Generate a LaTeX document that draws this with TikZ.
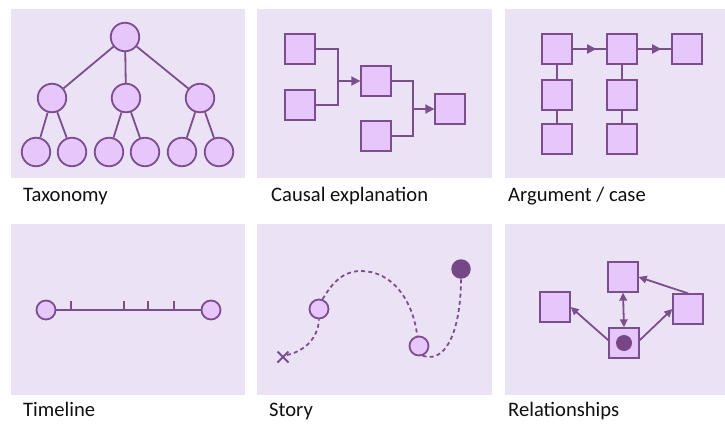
\documentclass[tikz,border=0pt]{standalone}
\usepackage{fontspec}
\setmainfont{Carlito}
\usetikzlibrary{arrows.meta,decorations.markings,calc}
\definecolor{bgp}{HTML}{ECE2F6}
\definecolor{fil}{HTML}{E6C6FB}
\definecolor{stk}{HTML}{7B4F8E}
\definecolor{dark}{HTML}{774686}
\definecolor{txt}{HTML}{101010}
\begin{document}
\begin{tikzpicture}[x=1pt,y=-1pt,
  panel/.style={fill=bgp, draw=none},
  circ/.style={circle, draw=stk, fill=fil, line width=1.8pt, minimum size=28.5pt, inner sep=0pt},
  smallcirc/.style={circle, draw=stk, fill=fil, line width=1.8pt, minimum size=19pt, inner sep=0pt},
  darkcirc/.style={circle, fill=dark, draw=none, minimum size=#1, inner sep=0pt},
  sq/.style={rectangle, draw=stk, fill=fil, line width=1.8pt, minimum size=29.5pt, inner sep=0pt},
  con/.style={draw=stk, line width=1.8pt},
  dsh/.style={draw=stk, line width=1.8pt, dash pattern=on 4pt off 3.2pt},
  tip/.style={-{Triangle[length=9pt,width=9pt]}},
  stip/.style={-{Triangle[length=8pt,width=7.5pt]}},
  btip/.style={{Triangle[length=8pt,width=7.5pt]}-{Triangle[length=8pt,width=7.5pt]}},
  midarr/.style={postaction={decorate}, decoration={markings, mark=at position #1 with {\arrow{Triangle[length=9pt,width=9pt]}}}},
  lbl/.style={anchor=base west, font=\fontsize{20.6}{24}\selectfont, text=txt, inner sep=0pt}
]
\useasboundingbox (0,0) rectangle (725,423);
\fill[white] (0,0) rectangle (725,423);

% panels
\path[panel] (11,9) rectangle (245,178);
\path[panel] (257,9) rectangle (492,178);
\path[panel] (505,9) rectangle (725,178);
\path[panel] (11,224) rectangle (245,395);
\path[panel] (257,224) rectangle (492,395);
\path[panel] (505,224) rectangle (725,395);

% labels
\node[lbl] (l1) at (23,201) {Taxonomy};
\node[lbl] (l2) at (271,201) {Causal explanation};
\node[lbl] (l3) at (508,201) {Argument / case};
\node[lbl] (l4) at (23,416) {Timeline};
\node[lbl] (l5) at (269,416) {Story};
\node[lbl] (l6) at (508,416) {Relationships};

% ---------- Taxonomy ----------
\node[circ] (root) at (125,37) {};
\node[circ] (m1) at (52,98) {};
\node[circ] (m2) at (126,98) {};
\node[circ] (m3) at (200,98) {};
\node[circ] (c1) at (36,152) {};
\node[circ] (c2) at (72,152) {};
\node[circ] (c3) at (109,152) {};
\node[circ] (c4) at (145,152) {};
\node[circ] (c5) at (182,152) {};
\node[circ] (c6) at (219,152) {};
\draw[con] (root) -- (m1);
\draw[con] (root) -- (m2);
\draw[con] (root) -- (m3);
\draw[con] (m1) -- (c1);
\draw[con] (m1) -- (c2);
\draw[con] (m2) -- (c3);
\draw[con] (m2) -- (c4);
\draw[con] (m3) -- (c5);
\draw[con] (m3) -- (c6);

% ---------- Causal explanation ----------
\node[sq] (b1) at (300,49) {};
\node[sq] (b2) at (300,105) {};
\node[sq] (b3) at (376,81) {};
\node[sq] (b4) at (376,136) {};
\node[sq] (b5) at (450,109) {};
\coordinate (j1) at (338,81);
\coordinate (j2) at (413,109);
\draw[con] (b1.east) -| (j1) |- (b2.east);
\draw[con,tip] (j1) -- (b3.west);
\draw[con] (b3.east) -| (j2) |- (b4.east);
\draw[con,tip] (j2) -- (b5.west);

% ---------- Argument / case ----------
\node[sq] (a1) at (557,49) {};
\node[sq] (a2) at (622,49) {};
\node[sq] (a3) at (687,49) {};
\node[sq] (a4) at (557,95) {};
\node[sq] (a5) at (622,95) {};
\node[sq] (a6) at (557,139) {};
\node[sq] (a7) at (622,139) {};
\draw[con,midarr=0.7] (a1.east) -- (a2.west);
\draw[con,midarr=0.7] (a2.east) -- (a3.west);
\draw[con] (a1) -- (a4);
\draw[con] (a4) -- (a6);
\draw[con] (a2) -- (a5);
\draw[con] (a5) -- (a7);

% ---------- Timeline ----------
\node[smallcirc] (t1) at (46,310) {};
\node[smallcirc] (t2) at (211,310) {};
\draw[con] (t1) -- (t2);
\foreach \tx in {71,124,148,174} {
  \draw[con] (\tx,310) -- (\tx,300.5);
}

% ---------- Story ----------
\coordinate (xm) at (283,357);
\draw[con] ($(xm)+(-5.5,-5.5)$) -- ($(xm)+(5.5,5.5)$);
\draw[con] ($(xm)+(-5.5,5.5)$) -- ($(xm)+(5.5,-5.5)$);
\node[smallcirc] (s1) at (319,309) {};
\node[smallcirc] (s2) at (419,346) {};
\node[darkcirc=19.5pt] (s3) at (461,269) {};
\draw[dsh] ($(xm)+(4,-2)$) .. controls (305,351) and (318,338) .. (s1.south);
\draw[dsh] (s1.70) .. controls (332,283) and (343,271) .. (361,271)
  .. controls (392,271) and (413,300) .. (s2.100);
\draw[dsh] (s2.-70) .. controls (450,365) and (461,320) .. (s3.south);

% ---------- Relationships ----------
\node[sq] (r1) at (623,277) {};
\node[sq] (r2) at (555,307) {};
\node[sq] (r3) at (688,309) {};
\node[sq] (r4) at (624,343) {};
\node[darkcirc=16pt] (rc) at (r4) {};
\draw[con,btip] (r4.north) -- (r1.south);
\draw[con,stip] (r4.170) -- (r2.east);
\draw[con,stip] (r4.10) -- (r3.west);
\draw[con,stip] (r3.north) -- (r1.east);
\end{tikzpicture}
\end{document}
